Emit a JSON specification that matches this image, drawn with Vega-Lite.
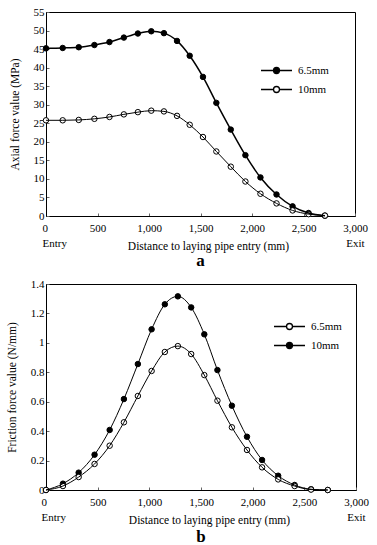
{
  "$schema": "https://vega.github.io/schema/vega-lite/v6.json",
  "padding": {"left": 5, "top": 5, "right": 5, "bottom": 5},
  "background": "white",
  "config": {
    "font": "Liberation Serif, Times New Roman, serif",
    "view": {"stroke": "black", "strokeWidth": 1},
    "axis": {
      "grid": false, "domainColor": "black", "domainWidth": 1,
      "tickColor": "#666", "tickSize": -3, "labelPadding": 5,
      "labelFont": "Liberation Serif, Times New Roman, serif", "labelFontSize": 11, "labelColor": "black",
      "labelFlush": false, "labelOverlap": false,
      "titleFont": "Liberation Serif, Times New Roman, serif", "titleFontSize": 11.5, "titleFontWeight": "normal", "titleColor": "black"
    },
    "legend": {
      "orient": "none", "title": null, "padding": 0,
      "labelFont": "Liberation Serif, Times New Roman, serif", "labelFontSize": 11, "labelColor": "black",
      "symbolType": "M-4,0H-0.77M0.77,0H4M0.77,0A0.77,0.77,0,1,1,-0.77,0A0.77,0.77,0,1,1,0.77,0Z",
      "symbolSize": 60, "symbolStrokeColor": "black", "symbolStrokeWidth": 1.3,
      "labelOffset": 16, "rowPadding": 6
    },
    "concat": {"spacing": 8}
  },
  "datasets": {
    "a": [
      {"x": 0, "y": 45.2, "s": "6.5mm"}, {"x": 162, "y": 45.3, "s": "6.5mm"}, {"x": 318, "y": 45.5, "s": "6.5mm"},
      {"x": 470, "y": 46.1, "s": "6.5mm"}, {"x": 616, "y": 46.9, "s": "6.5mm"}, {"x": 756, "y": 48.1, "s": "6.5mm"},
      {"x": 892, "y": 49.2, "s": "6.5mm"}, {"x": 1022, "y": 49.8, "s": "6.5mm"}, {"x": 1145, "y": 49.3, "s": "6.5mm"},
      {"x": 1272, "y": 47.2, "s": "6.5mm"}, {"x": 1395, "y": 43.2, "s": "6.5mm"}, {"x": 1524, "y": 37.5, "s": "6.5mm"},
      {"x": 1654, "y": 30.5, "s": "6.5mm"}, {"x": 1794, "y": 23.3, "s": "6.5mm"}, {"x": 1936, "y": 16.4, "s": "6.5mm"},
      {"x": 2082, "y": 10.4, "s": "6.5mm"}, {"x": 2238, "y": 5.8, "s": "6.5mm"}, {"x": 2394, "y": 2.6, "s": "6.5mm"},
      {"x": 2549, "y": 0.8, "s": "6.5mm"}, {"x": 2708, "y": 0.1, "s": "6.5mm"},
      {"x": 0, "y": 25.8, "s": "10mm"}, {"x": 162, "y": 25.8, "s": "10mm"}, {"x": 318, "y": 25.9, "s": "10mm"},
      {"x": 470, "y": 26.2, "s": "10mm"}, {"x": 616, "y": 26.7, "s": "10mm"}, {"x": 756, "y": 27.4, "s": "10mm"},
      {"x": 892, "y": 28.0, "s": "10mm"}, {"x": 1022, "y": 28.4, "s": "10mm"}, {"x": 1145, "y": 28.2, "s": "10mm"},
      {"x": 1272, "y": 27.0, "s": "10mm"}, {"x": 1395, "y": 24.6, "s": "10mm"}, {"x": 1524, "y": 21.3, "s": "10mm"},
      {"x": 1654, "y": 17.4, "s": "10mm"}, {"x": 1794, "y": 13.3, "s": "10mm"}, {"x": 1936, "y": 9.3, "s": "10mm"},
      {"x": 2082, "y": 6.0, "s": "10mm"}, {"x": 2238, "y": 3.4, "s": "10mm"}, {"x": 2394, "y": 1.5, "s": "10mm"},
      {"x": 2549, "y": 0.5, "s": "10mm"}, {"x": 2708, "y": 0.1, "s": "10mm"}
    ],
    "b": [
      {"x": 0, "y": 0, "s": "10mm"}, {"x": 164, "y": 0.043, "s": "10mm"}, {"x": 316, "y": 0.118, "s": "10mm"},
      {"x": 470, "y": 0.240, "s": "10mm"}, {"x": 616, "y": 0.408, "s": "10mm"}, {"x": 754, "y": 0.618, "s": "10mm"},
      {"x": 889, "y": 0.856, "s": "10mm"}, {"x": 1022, "y": 1.092, "s": "10mm"}, {"x": 1150, "y": 1.262, "s": "10mm"},
      {"x": 1276, "y": 1.316, "s": "10mm"}, {"x": 1405, "y": 1.241, "s": "10mm"}, {"x": 1532, "y": 1.058, "s": "10mm"},
      {"x": 1659, "y": 0.815, "s": "10mm"}, {"x": 1799, "y": 0.573, "s": "10mm"}, {"x": 1945, "y": 0.362, "s": "10mm"},
      {"x": 2091, "y": 0.204, "s": "10mm"}, {"x": 2247, "y": 0.097, "s": "10mm"}, {"x": 2406, "y": 0.034, "s": "10mm"},
      {"x": 2565, "y": 0.005, "s": "10mm"}, {"x": 2727, "y": 0.0, "s": "10mm"},
      {"x": 0, "y": 0, "s": "6.5mm"}, {"x": 164, "y": 0.027, "s": "6.5mm"}, {"x": 316, "y": 0.088, "s": "6.5mm"},
      {"x": 470, "y": 0.177, "s": "6.5mm"}, {"x": 616, "y": 0.301, "s": "6.5mm"}, {"x": 754, "y": 0.460, "s": "6.5mm"},
      {"x": 889, "y": 0.639, "s": "6.5mm"}, {"x": 1022, "y": 0.809, "s": "6.5mm"}, {"x": 1150, "y": 0.938, "s": "6.5mm"},
      {"x": 1276, "y": 0.978, "s": "6.5mm"}, {"x": 1405, "y": 0.924, "s": "6.5mm"}, {"x": 1532, "y": 0.781, "s": "6.5mm"},
      {"x": 1659, "y": 0.607, "s": "6.5mm"}, {"x": 1799, "y": 0.426, "s": "6.5mm"}, {"x": 1945, "y": 0.272, "s": "6.5mm"},
      {"x": 2091, "y": 0.154, "s": "6.5mm"}, {"x": 2247, "y": 0.072, "s": "6.5mm"}, {"x": 2406, "y": 0.027, "s": "6.5mm"},
      {"x": 2565, "y": 0.003, "s": "6.5mm"}, {"x": 2727, "y": 0.0, "s": "6.5mm"}
    ]
  },
  "resolve": {"scale": {"fill": "independent"}, "legend": {"fill": "independent"}},
  "vconcat": [
    {
      "width": 309, "height": 204,
      "data": {"name": "a"},
      "title": {"text": "a", "orient": "bottom", "fontSize": 17, "fontWeight": "bold", "font": "Liberation Serif, Times New Roman, serif", "offset": 1, "color": "black"},
      "encoding": {
        "x": {"field": "x", "type": "quantitative", "scale": {"domain": [0, 3000], "nice": false},
          "axis": {"values": [0, 500, 1000, 1500, 2000, 2500, 3000], "labelLineHeight": 15, "labelPadding": 9,
            "labelExpr": "datum.value == 0 ? ['0', 'Entry'] : datum.value == 3000 ? ['3,000', 'Exit'] : format(datum.value, ',')",
            "labelAlign": {"condition": {"test": "datum.value == 0", "value": "left"}, "value": "center"},
            "labelOffset": {"condition": {"test": "datum.value == 0", "value": -4}, "value": 0},
            "title": "Distance to laying pipe entry (mm)", "titleX": 162, "titleY": 30, "titleBaseline": "middle"}},
        "y": {"field": "y", "type": "quantitative", "scale": {"domain": [0, 55], "nice": false},
          "axis": {"values": [0, 5, 10, 15, 20, 25, 30, 35, 40, 45, 50, 55], "title": "Axial force value (MPa)", "titlePadding": 13}}
      },
      "layer": [
        {"mark": {"type": "circle", "size": 30, "stroke": "black", "strokeWidth": 1, "opacity": 1},
          "encoding": {"fill": {"field": "s", "type": "nominal",
            "scale": {"domain": ["6.5mm", "10mm"], "range": ["black", "white"]},
            "legend": {"legendX": 225, "legendY": 53}}}},
        {"mark": {"type": "line", "interpolate": "monotone", "color": "black"},
          "encoding": {"detail": {"field": "s"},
            "strokeWidth": {"field": "s", "type": "nominal", "scale": {"domain": ["6.5mm", "10mm"], "range": [1.5, 1]}, "legend": null}}}
      ]
    },
    {
      "width": 310, "height": 206,
      "data": {"name": "b"},
      "title": {"text": "b", "orient": "bottom", "fontSize": 17, "fontWeight": "bold", "font": "Liberation Serif, Times New Roman, serif", "offset": 3, "color": "black"},
      "encoding": {
        "x": {"field": "x", "type": "quantitative", "scale": {"domain": [0, 3000], "nice": false},
          "axis": {"values": [0, 500, 1000, 1500, 2000, 2500, 3000], "labelLineHeight": 15, "labelPadding": 9,
            "labelExpr": "datum.value == 0 ? ['0', 'Entry'] : datum.value == 3000 ? ['3,000', 'Exit'] : format(datum.value, ',')",
            "labelAlign": {"condition": {"test": "datum.value == 0", "value": "left"}, "value": "center"},
            "labelOffset": {"condition": {"test": "datum.value == 0", "value": -5}, "value": 0},
            "title": "Distance to laying pipe entry (mm)", "titleX": 163, "titleY": 30, "titleBaseline": "middle"}},
        "y": {"field": "y", "type": "quantitative", "scale": {"domain": [0, 1.4], "nice": false},
          "axis": {"values": [0, 0.2, 0.4, 0.6, 0.8, 1, 1.2, 1.4], "format": "~g", "title": "Friction force value (N/mm)", "titlePadding": 13}}
      },
      "layer": [
        {"mark": {"type": "circle", "size": 30, "stroke": "black", "strokeWidth": 1, "opacity": 1},
          "encoding": {"fill": {"field": "s", "type": "nominal",
            "scale": {"domain": ["6.5mm", "10mm"], "range": ["white", "black"]},
            "legend": {"legendX": 238, "legendY": 37}}}},
        {"mark": {"type": "line", "interpolate": "monotone", "color": "black", "strokeWidth": 1},
          "encoding": {"detail": {"field": "s"}}}
      ]
    }
  ]
}
